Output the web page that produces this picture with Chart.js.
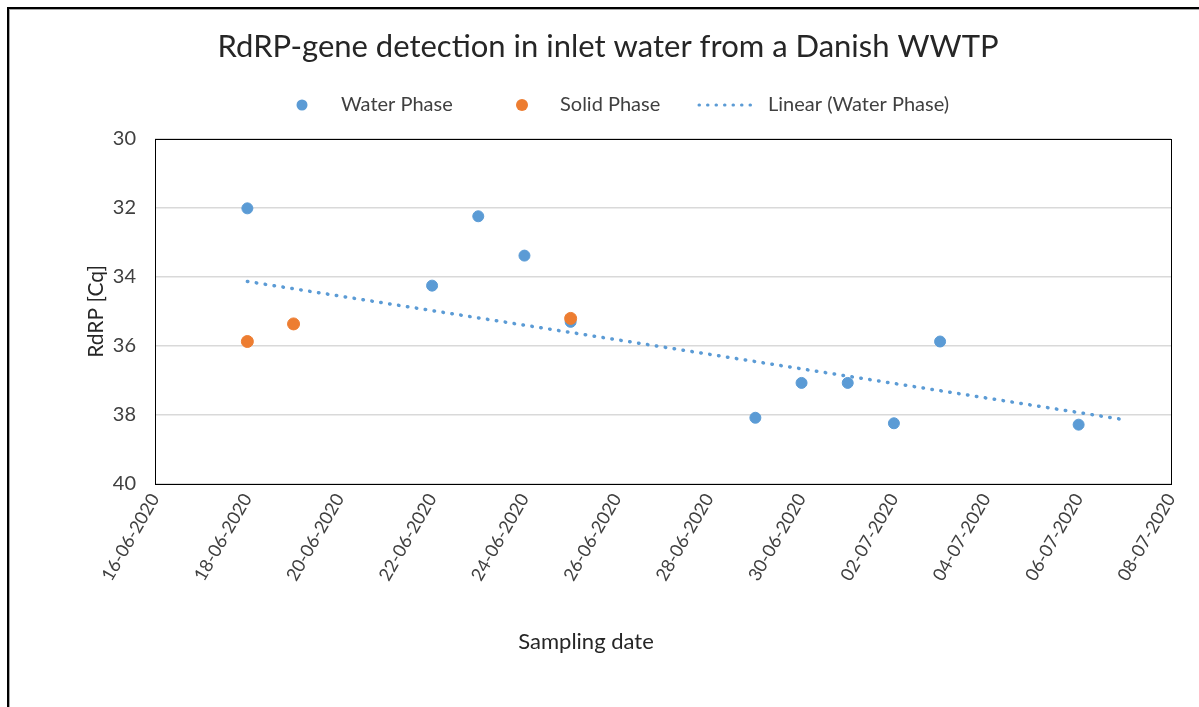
<!DOCTYPE html>
<html><head><meta charset="utf-8">
<script src="https://cdn.jsdelivr.net/npm/chart.js@4.4.1/dist/chart.umd.min.js"></script>
<style>
html,body{margin:0;padding:0;background:#fff;}
#wrap{position:relative;width:1199px;height:707px;overflow:hidden;background:#fff;}
#frame{position:absolute;left:7px;top:7px;right:-10px;bottom:-10px;border-top:2px solid #000;border-left:2px solid #000;}
#frame2{position:absolute;left:9px;top:9px;right:-10px;bottom:-10px;border-top:1px solid #a6a6a6;border-left:1px solid #a6a6a6;}
canvas{position:absolute;left:0;top:0;}
</style></head><body>
<div id="wrap"><div id="frame"></div><div id="frame2"></div><canvas id="c" width="1199" height="707"></canvas></div>
<script>
// ---- data ----
const chartTitle = 'RdRP-gene detection in inlet water from a Danish WWTP';
const xAxisTitle = 'Sampling date';
const yAxisTitle = 'RdRP [Cq]';
const waterLabel = 'Water Phase';
const solidLabel = 'Solid Phase';
const trendLabel = 'Linear (Water Phase)';
const waterDates = ['2020-06-18','2020-06-22','2020-06-23','2020-06-24','2020-06-25','2020-06-29','2020-06-30','2020-07-01','2020-07-02','2020-07-03','2020-07-06'];
const waterCq = [32.01, 34.25, 32.24, 33.38, 35.30, 38.08, 37.07, 37.07, 38.24, 35.87, 38.28];
const solidDates = ['2020-06-18','2020-06-19','2020-06-25'];
const solidCq = [35.87, 35.36, 35.20];
const trendDates = ['2020-06-18','2020-07-07'];
const trendCq = [34.13, 38.14];
const xTickDates = ['2020-06-16','2020-06-18','2020-06-20','2020-06-22','2020-06-24','2020-06-26','2020-06-28','2020-06-30','2020-07-02','2020-07-04','2020-07-06','2020-07-08'];
const yTicks = [30, 32, 34, 36, 38, 40];

// ---- helpers ----
const DAY = 864e5;
const base = Date.parse(xTickDates[0]);
const dayNum = s => (Date.parse(s) - base) / DAY;
const fmt = v => {
  const d = new Date(base + Math.round(v) * DAY);
  const p = n => String(n).padStart(2, '0');
  return p(d.getUTCDate()) + '-' + p(d.getUTCMonth() + 1) + '-' + d.getUTCFullYear();
};
const pts = (ds, vs) => ds.map((d, i) => ({x: dayNum(d), y: vs[i]}));

const BLUE = '#5B9BD5', ORANGE = '#ED7D31', TXT = '#404040';
const FONT = 'Lato, "Open Sans", sans-serif';

const frameAndText = {
  id: 'frameAndText',
  beforeDatasetsDraw(chart) {
    const {ctx, chartArea: a} = chart;
    ctx.save();
    ctx.strokeStyle = '#000';
    ctx.lineWidth = 1;
    ctx.strokeRect(Math.round(a.left) + 0.5, Math.round(a.top) + 0.5, Math.round(a.right - a.left), Math.round(a.bottom - a.top));
    ctx.restore();
  },
  afterDraw(chart) {
    const {ctx} = chart;
    ctx.save();
    // chart title
    ctx.fillStyle = '#262626';
    ctx.font = '31px ' + FONT;
    ctx.textAlign = 'center';
    ctx.textBaseline = 'middle';
    ctx.fillText(chartTitle, 608, 47);
    // x axis title
    ctx.font = '22px ' + FONT;
    ctx.fillText(xAxisTitle, 586, 642);
    // legend
    const ly = 105;
    ctx.font = '20px ' + FONT;
    ctx.textAlign = 'left';
    ctx.fillStyle = BLUE;
    ctx.beginPath(); ctx.arc(302, ly, 5.5, 0, Math.PI * 2); ctx.fill();
    ctx.fillStyle = TXT;
    ctx.fillText(waterLabel, 341, ly);
    ctx.fillStyle = ORANGE;
    ctx.beginPath(); ctx.arc(522, ly, 6, 0, Math.PI * 2); ctx.fill();
    ctx.fillStyle = TXT;
    ctx.fillText(solidLabel, 560, ly);
    ctx.strokeStyle = BLUE;
    ctx.lineWidth = 3;
    ctx.lineCap = 'round';
    ctx.setLineDash([0.5, 8]);
    ctx.beginPath(); ctx.moveTo(699, ly); ctx.lineTo(757, ly); ctx.stroke();
    ctx.setLineDash([]);
    ctx.fillStyle = TXT;
    ctx.fillText(trendLabel, 768, ly);
    ctx.restore();
  }
};

new Chart(document.getElementById('c'), {
  type: 'scatter',
  data: {
    datasets: [
      {label: trendLabel, data: pts(trendDates, trendCq), showLine: true, borderColor: BLUE, borderWidth: 3.5,
       borderDash: [0.5, 8.5], borderCapStyle: 'round', pointRadius: 0, order: 0},
      {label: solidLabel, data: pts(solidDates, solidCq), backgroundColor: ORANGE, borderColor: ORANGE, borderWidth: 1,
       pointRadius: 6, order: 1},
      {label: waterLabel, data: pts(waterDates, waterCq), backgroundColor: BLUE, borderColor: BLUE, borderWidth: 1,
       pointRadius: 5.5, order: 2}
    ]
  },
  options: {
    responsive: false,
    animation: false,
    layout: {padding: {left: 80, right: 28, top: 139, bottom: 0}},
    plugins: {
      legend: {display: false},
      tooltip: {enabled: false},
      title: {display: false}
    },
    scales: {
      x: {
        type: 'linear',
        min: dayNum(xTickDates[0]), max: dayNum(xTickDates[xTickDates.length - 1]),
        afterBuildTicks: s => { s.ticks = xTickDates.map(d => ({value: dayNum(d)})); },
        afterFit: s => { s.height = 223; },
        grid: {display: false, drawTicks: false},
        border: {display: false},
        ticks: {autoSkip: false, minRotation: 60, maxRotation: 60, padding: 6, color: TXT,
                font: {family: FONT, size: 18}, callback: v => fmt(v)}
      },
      y: {
        reverse: true,
        min: yTicks[0], max: yTicks[yTicks.length - 1],
        afterBuildTicks: s => { s.ticks = yTicks.map(v => ({value: v})); },
        afterFit: s => { s.width = 75; },
        grid: {color: '#d9d9d9', lineWidth: 1.5, drawTicks: false},
        border: {display: false},
        ticks: {padding: 19, color: TXT, font: {family: FONT, size: 20}},
        title: {display: true, text: yAxisTitle, color: '#262626', font: {family: FONT, size: 21}, padding: {top: 4, bottom: 0}}
      }
    }
  },
  plugins: [frameAndText]
});
</script>
</body></html>
